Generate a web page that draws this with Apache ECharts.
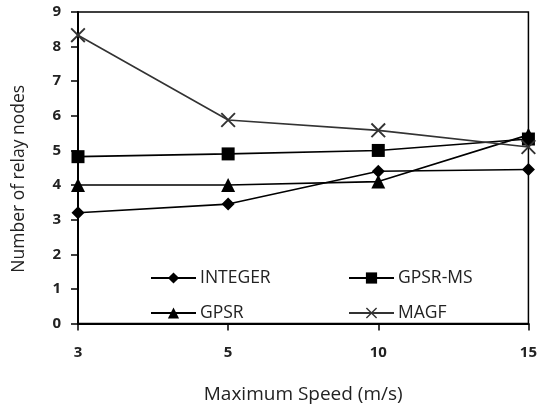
<!DOCTYPE html>
<html><head><meta charset="utf-8">
<script src="https://cdn.jsdelivr.net/npm/echarts@6/dist/echarts.min.js"></script>
<style>html,body{margin:0;padding:0;background:#fff}#c{width:540px;height:414px}</style>
</head><body><div id="c"></div>
<script>
var categories = ['3', '5', '10', '15'];
var integerVals = [3.2, 3.45, 4.4, 4.45];
var gpsrMsVals = [4.82, 4.9, 5.0, 5.33];
var gpsrVals = [4.0, 4.0, 4.1, 5.45];
var magfVals = [8.33, 5.88, 5.58, 5.1];
var yTicks = [0, 9, 1];

var FONT = 'Open Sans';
var crossPath = 'path://M0,0.9 L0.9,0 L10,9.1 L9.1,10 Z M9.1,0 L10,0.9 L0.9,10 L0,9.1 Z';

function mk(name, data, symbol, size, color) {
  return {
    name: name, type: 'line', data: data, symbol: symbol, symbolSize: size,
    showSymbol: true,
    lineStyle: { color: color, width: 1.6 },
    itemStyle: { color: color },
    z: 3
  };
}

var legendText = { fontFamily: FONT, fontSize: 17.5, color: '#222', lineHeight: 20, padding: [0, 0, 0, -1] };
var chart = echarts.init(document.getElementById('c'), null, { renderer: 'canvas' });
chart.setOption({
  animation: false,
  backgroundColor: '#fff',
  grid: { left: 78, right: 10, top: 12, bottom: 90.5, show: true, borderColor: '#000', borderWidth: 1.5, backgroundColor: 'transparent' },
  legend: [
    { data: ['INTEGER', 'GPSR'], orient: 'vertical', left: 150, top: 268, padding: 0, itemWidth: 45, itemHeight: 14, itemGap: 15,
      textStyle: legendText },
    { data: ['GPSR-MS', 'MAGF'], orient: 'vertical', left: 348, top: 268, padding: 0, itemWidth: 45, itemHeight: 14, itemGap: 15,
      textStyle: legendText }
  ],
  xAxis: {
    type: 'category', data: categories, boundaryGap: false,
    name: 'Maximum Speed (m/s)', nameLocation: 'middle', nameGap: 62,
    nameTextStyle: { fontFamily: FONT, fontSize: 19, color: '#222' },
    axisLine: { lineStyle: { color: '#000', width: 2 } },
    axisTick: { show: true, inside: false, length: 7, alignWithLabel: true, lineStyle: { color: '#000', width: 1.5 } },
    axisLabel: { fontFamily: FONT, fontSize: 15, color: '#222', margin: 22, fontWeight: 'bold' },
    splitLine: { show: false }
  },
  yAxis: {
    type: 'value', min: yTicks[0], max: yTicks[1], interval: yTicks[2],
    name: 'Number of relay nodes', nameLocation: 'middle', nameGap: 50, nameRotate: 90,
    nameTextStyle: { fontFamily: FONT, fontSize: 17.5, color: '#222', padding: [0, 22, 0, 0] },
    axisLine: { show: true, lineStyle: { color: '#000', width: 2 } },
    axisTick: { show: true, inside: false, length: 7, lineStyle: { color: '#000', width: 1.5 } },
    axisLabel: { fontFamily: FONT, fontSize: 15, color: '#222', margin: 17, fontWeight: 'bold' },
    splitLine: { show: false }
  },
  series: [
    mk('INTEGER', integerVals, 'diamond', 13, '#000'),
    mk('GPSR-MS', gpsrMsVals, 'rect', 13, '#000'),
    mk('GPSR', gpsrVals, 'triangle', 14, '#000'),
    mk('MAGF', magfVals, crossPath, 15, '#333')
  ]
});
</script></body></html>
